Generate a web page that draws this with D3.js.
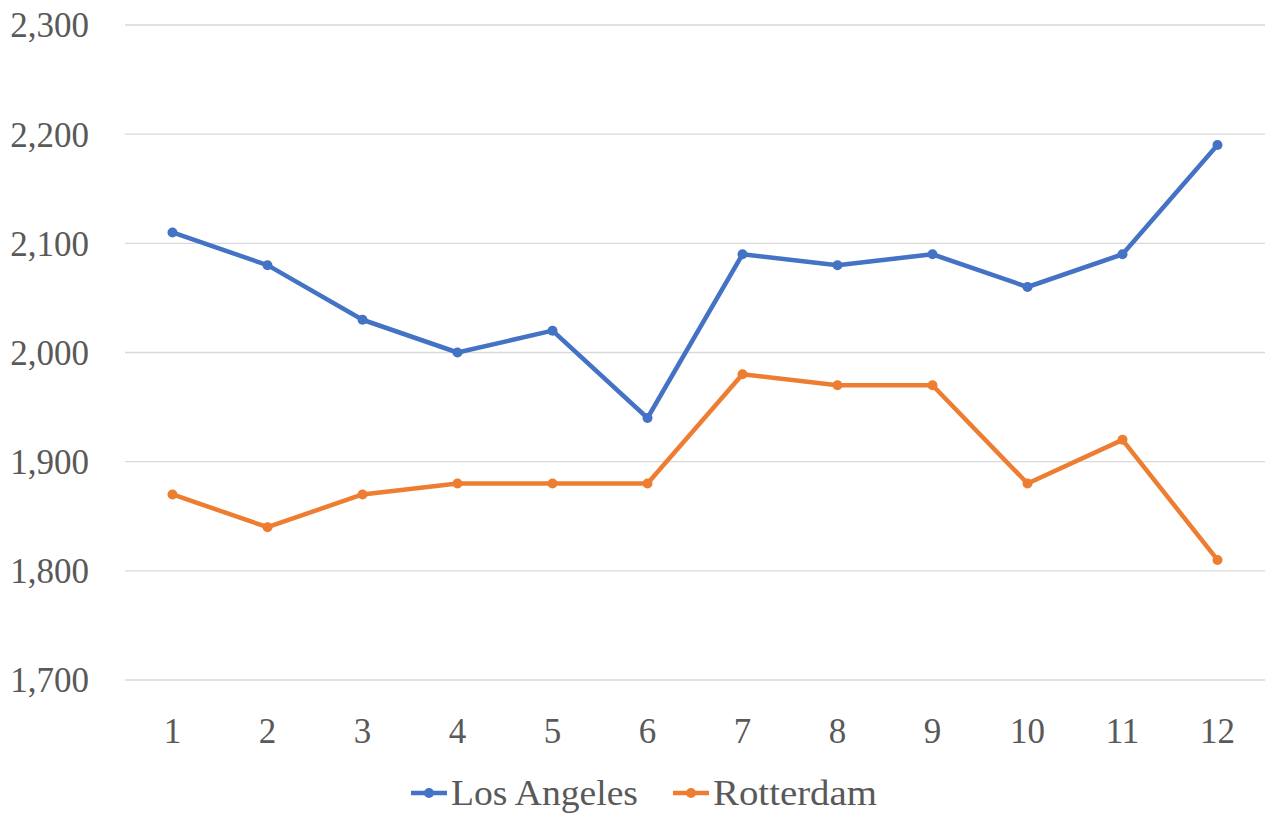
<!DOCTYPE html>
<html><head><meta charset="utf-8">
<script src="https://cdn.jsdelivr.net/npm/d3@7"></script>
<style>body{margin:0;background:#fff}svg{display:block}</style>
</head><body>
<svg id="c" width="1269" height="816"></svg>
<script>
const categories = [1,2,3,4,5,6,7,8,9,10,11,12];
const losAngeles = [2110,2080,2030,2000,2020,1940,2090,2080,2090,2060,2090,2190];
const rotterdam = [1870,1840,1870,1880,1880,1880,1980,1970,1970,1880,1920,1810];
const yTicks = [1700,1800,1900,2000,2100,2200,2300];
const seriesNames = ["Los Angeles","Rotterdam"];
const colors = ["#4472C4","#ED7D31"];

const font = "'Palatino Linotype','Book Antiqua',Palatino,'Liberation Serif',serif";
const svg = d3.select("#c");
const x = d3.scaleBand().domain(categories).range([125,1265]);
const y = d3.scaleLinear().domain([1700,2300]).range([680,25]);

const g = svg.append("g");
g.selectAll("line.grid").data(yTicks).join("line")
  .attr("x1",125).attr("x2",1265)
  .attr("y1",d=>y(d)).attr("y2",d=>y(d))
  .attr("stroke","#d9d9d9").attr("stroke-width",1.3);

const yAxis = d3.axisLeft(y).tickValues(yTicks).tickFormat(d3.format(",")).tickSize(0).tickPadding(0);
svg.append("g").attr("transform","translate(89,0)").call(yAxis)
  .call(a=>a.select(".domain").remove())
  .selectAll("text").attr("font-family",font).attr("font-size",35).attr("fill","#595959").attr("dy","0.34em");

const xAxis = d3.axisBottom(x).tickSize(0).tickPadding(0);
svg.append("g").attr("transform","translate(0,731)").call(xAxis)
  .call(a=>a.select(".domain").remove())
  .selectAll("text").attr("font-family",font).attr("font-size",35).attr("fill","#595959").attr("dy","0.34em");

const cx = d=>x(d)+x.bandwidth()/2;
const line = d3.line().x((d,i)=>cx(categories[i])).y(d=>y(d));
[losAngeles,rotterdam].forEach((s,k)=>{
  svg.append("path").datum(s).attr("d",line).attr("fill","none")
    .attr("stroke",colors[k]).attr("stroke-width",4.5).attr("stroke-linejoin","round");
  svg.selectAll(null).data(s).join("circle")
    .attr("cx",(d,i)=>cx(categories[i])).attr("cy",d=>y(d)).attr("r",5).attr("fill",colors[k]);
});

const legX = [411,673];
const legW = [187,164];
seriesNames.forEach((n,k)=>{
  const lg = svg.append("g").attr("transform",`translate(${legX[k]},793)`);
  lg.append("line").attr("x1",0).attr("x2",36).attr("stroke",colors[k]).attr("stroke-width",4.5);
  lg.append("circle").attr("cx",18).attr("r",5).attr("fill",colors[k]);
  lg.append("text").attr("x",40).attr("dy","0.34em").text(n)
    .attr("textLength",legW[k]).attr("lengthAdjust","spacingAndGlyphs")
    .attr("font-family",font).attr("font-size",35).attr("fill","#595959");
});
</script>
</body></html>
